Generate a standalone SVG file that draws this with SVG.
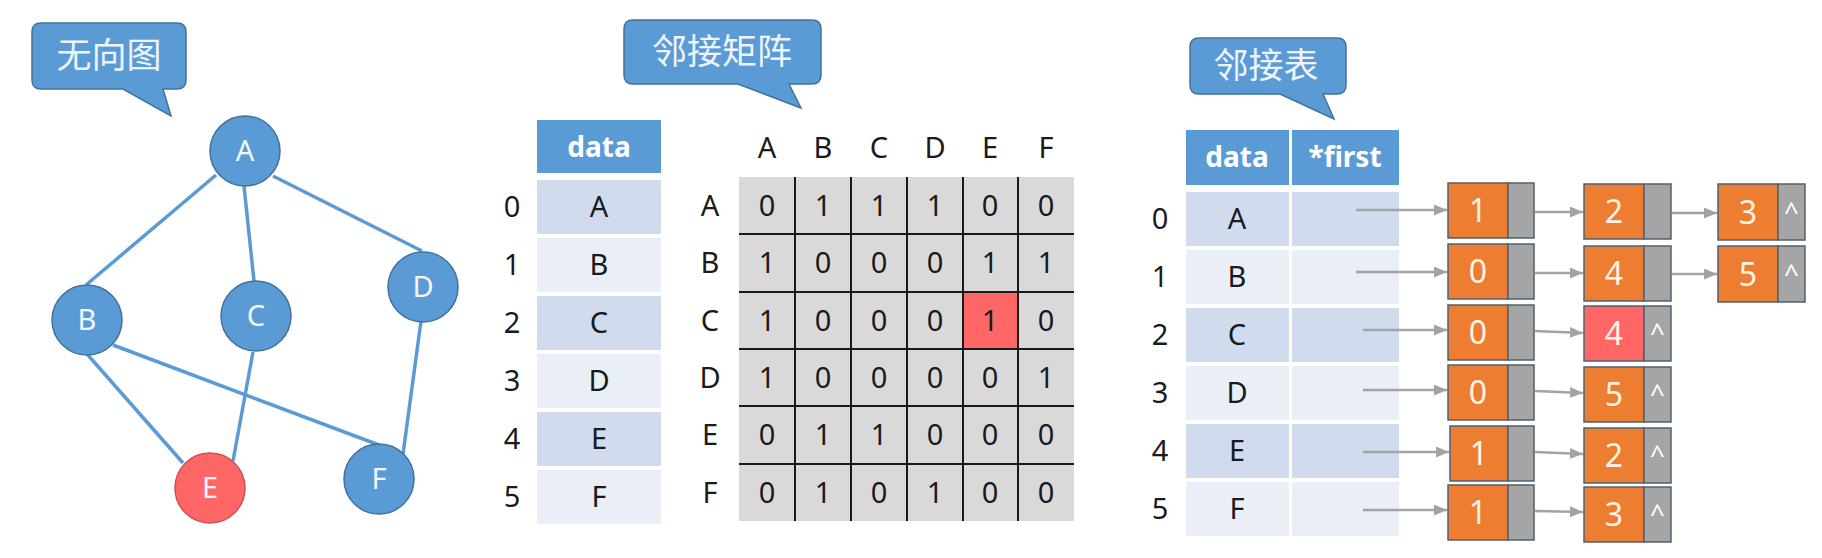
<svg xmlns="http://www.w3.org/2000/svg" width="1822" height="558" viewBox="0 0 1822 558">
<style>
text{font-family:"Noto Sans","Open Sans","Liberation Sans",sans-serif;text-anchor:middle}
.cjk{font-family:"Noto Sans CJK SC","Noto Sans",sans-serif;font-size:35px;fill:#eef4fb}
.callout{fill:#5b9bd5;stroke:#41719c;stroke-width:1.5}
.gn{fill:#5b9bd5;stroke:#41719c;stroke-width:1.5}
.gn-red{fill:#ff6666;stroke:#d05050;stroke-width:1.5}
.gt{font-size:29px;fill:#f2f7fc}
.edge{stroke:#5b9bd5;stroke-width:3.5;fill:none}
.hdr{fill:#5b9bd5}
.hdrt{font-size:28px;font-weight:bold;fill:#ffffff}
.r0{fill:#d0dcee}
.r1{fill:#e9eef7}
.t{font-size:29px;fill:#1a1a1a}
.mat{fill:#d9d9d9}
.red{fill:#ff6666}
.grid{stroke:#1a1a1a;stroke-width:2}
.or{fill:#ed7d31;stroke:#4f6272;stroke-width:1.5}
.orred{fill:#ff6666;stroke:#4f6272;stroke-width:1.5}
.gy{fill:#a5a5a5;stroke:#4f6272;stroke-width:1.5}
.nt{font-size:32px;fill:#fff3e3}
.ct{font-size:26px;fill:#ffffff}
.arr{stroke:#a3a3a3;stroke-width:2.5;fill:none;marker-end:url(#ah)}
</style>
<defs>
<marker id="ah" markerUnits="userSpaceOnUse" markerWidth="13" markerHeight="11" refX="13" refY="5.5" orient="auto">
<path d="M0,0 L13,5.5 L0,11 Z" fill="#a3a3a3"/>
</marker>
</defs>

<!-- Callouts -->
<g id="callout-graph">
<path class="callout" d="M41,23 H177 Q186,23 186,32 V80 Q186,89 177,89 H163 L171,116 L123,89 H41 Q32,89 32,80 V32 Q32,23 41,23 Z"/>
<text class="cjk" x="109" y="68">无向图</text>
</g>
<g id="callout-matrix">
<path class="callout" d="M633,20 H812 Q821,20 821,29 V75 Q821,84 812,84 H789 L801,108 L738,84 H633 Q624,84 624,75 V29 Q624,20 633,20 Z"/>
<text class="cjk" x="722" y="64">邻接矩阵</text>
</g>
<g id="callout-list">
<path class="callout" d="M1199,38 H1337 Q1346,38 1346,47 V85 Q1346,94 1337,94 H1323 L1334,119 L1280,94 H1199 Q1190,94 1190,85 V47 Q1190,38 1199,38 Z"/>
<text class="cjk" x="1266" y="78">邻接表</text>
</g>

<!-- Matrix section: data table -->
<g id="matrix-data-table">
<rect class="hdr" x="537" y="120" width="124" height="53"/>
<text class="hdrt" x="599" y="157">data</text>
<rect class="r0" x="537" y="180" width="124" height="54"/>
<rect class="r1" x="537" y="238" width="124" height="54"/>
<rect class="r0" x="537" y="296" width="124" height="54"/>
<rect class="r1" x="537" y="354" width="124" height="54"/>
<rect class="r0" x="537" y="412" width="124" height="54"/>
<rect class="r1" x="537" y="470" width="124" height="54"/>
<text class="t" x="512" y="217">0</text><text class="t" x="599" y="217">A</text>
<text class="t" x="512" y="275">1</text><text class="t" x="599" y="275">B</text>
<text class="t" x="512" y="333">2</text><text class="t" x="599" y="333">C</text>
<text class="t" x="512" y="391">3</text><text class="t" x="599" y="391">D</text>
<text class="t" x="512" y="449">4</text><text class="t" x="599" y="449">E</text>
<text class="t" x="512" y="507">5</text><text class="t" x="599" y="507">F</text>
</g>

<!-- Adjacency matrix -->
<g id="adjacency-matrix">
<rect class="mat" x="739" y="177" width="335" height="344"/>
<rect class="red" x="963" y="292" width="55" height="57"/>
<line class="grid" x1="795" y1="177" x2="795" y2="521"/>
<line class="grid" x1="851" y1="177" x2="851" y2="521"/>
<line class="grid" x1="907" y1="177" x2="907" y2="521"/>
<line class="grid" x1="963" y1="177" x2="963" y2="521"/>
<line class="grid" x1="1018" y1="177" x2="1018" y2="521"/>
<line class="grid" x1="739" y1="234" x2="1074" y2="234"/>
<line class="grid" x1="739" y1="292" x2="1074" y2="292"/>
<line class="grid" x1="739" y1="349" x2="1074" y2="349"/>
<line class="grid" x1="739" y1="406" x2="1074" y2="406"/>
<line class="grid" x1="739" y1="464" x2="1074" y2="464"/>
<text class="t" x="767" y="158">A</text><text class="t" x="823" y="158">B</text><text class="t" x="879" y="158">C</text><text class="t" x="935" y="158">D</text><text class="t" x="990" y="158">E</text><text class="t" x="1046" y="158">F</text>
<text class="t" x="710" y="216">A</text>
<text class="t" x="767" y="216">0</text><text class="t" x="823" y="216">1</text><text class="t" x="879" y="216">1</text><text class="t" x="935" y="216">1</text><text class="t" x="990" y="216">0</text><text class="t" x="1046" y="216">0</text>
<text class="t" x="710" y="273">B</text>
<text class="t" x="767" y="273">1</text><text class="t" x="823" y="273">0</text><text class="t" x="879" y="273">0</text><text class="t" x="935" y="273">0</text><text class="t" x="990" y="273">1</text><text class="t" x="1046" y="273">1</text>
<text class="t" x="710" y="331">C</text>
<text class="t" x="767" y="331">1</text><text class="t" x="823" y="331">0</text><text class="t" x="879" y="331">0</text><text class="t" x="935" y="331">0</text><text class="t" x="990" y="331">1</text><text class="t" x="1046" y="331">0</text>
<text class="t" x="710" y="388">D</text>
<text class="t" x="767" y="388">1</text><text class="t" x="823" y="388">0</text><text class="t" x="879" y="388">0</text><text class="t" x="935" y="388">0</text><text class="t" x="990" y="388">0</text><text class="t" x="1046" y="388">1</text>
<text class="t" x="710" y="445">E</text>
<text class="t" x="767" y="445">0</text><text class="t" x="823" y="445">1</text><text class="t" x="879" y="445">1</text><text class="t" x="935" y="445">0</text><text class="t" x="990" y="445">0</text><text class="t" x="1046" y="445">0</text>
<text class="t" x="710" y="503">F</text>
<text class="t" x="767" y="503">0</text><text class="t" x="823" y="503">1</text><text class="t" x="879" y="503">0</text><text class="t" x="935" y="503">1</text><text class="t" x="990" y="503">0</text><text class="t" x="1046" y="503">0</text>
</g>

<!-- Adjacency list table -->
<g id="list-table">
<rect class="hdr" x="1186" y="130" width="103" height="55"/>
<rect class="hdr" x="1292" y="130" width="107" height="55"/>
<text class="hdrt" x="1237" y="167">data</text>
<text class="hdrt" x="1345" y="167">*first</text>
<rect class="r0" x="1186" y="192" width="103" height="54"/><rect class="r0" x="1292" y="192" width="107" height="54"/>
<rect class="r1" x="1186" y="250" width="103" height="54"/><rect class="r1" x="1292" y="250" width="107" height="54"/>
<rect class="r0" x="1186" y="308" width="103" height="54"/><rect class="r0" x="1292" y="308" width="107" height="54"/>
<rect class="r1" x="1186" y="366" width="103" height="54"/><rect class="r1" x="1292" y="366" width="107" height="54"/>
<rect class="r0" x="1186" y="424" width="103" height="54"/><rect class="r0" x="1292" y="424" width="107" height="54"/>
<rect class="r1" x="1186" y="482" width="103" height="54"/><rect class="r1" x="1292" y="482" width="107" height="54"/>
<text class="t" x="1160" y="229">0</text><text class="t" x="1237" y="229">A</text>
<text class="t" x="1160" y="287">1</text><text class="t" x="1237" y="287">B</text>
<text class="t" x="1160" y="345">2</text><text class="t" x="1237" y="345">C</text>
<text class="t" x="1160" y="403">3</text><text class="t" x="1237" y="403">D</text>
<text class="t" x="1160" y="461">4</text><text class="t" x="1237" y="461">E</text>
<text class="t" x="1160" y="519">5</text><text class="t" x="1237" y="519">F</text>
</g>

<!-- Connectors -->
<g id="connectors">
<line class="edge" x1="216" y1="175" x2="86" y2="285"/>
<line class="edge" x1="244" y1="186" x2="254" y2="281"/>
<line class="edge" x1="273" y1="176" x2="422" y2="251"/>
<line class="edge" x1="87" y1="354" x2="183" y2="463"/>
<line class="edge" x1="113" y1="345" x2="379" y2="445"/>
<line class="edge" x1="253" y1="352" x2="233" y2="461"/>
<line class="edge" x1="421" y1="321" x2="403" y2="454"/>
<line class="arr" x1="1356" y1="210" x2="1447" y2="210"/>
<line class="arr" x1="1356" y1="272" x2="1447" y2="272"/>
<line class="arr" x1="1363" y1="330" x2="1447" y2="330"/>
<line class="arr" x1="1363" y1="390" x2="1447" y2="390"/>
<line class="arr" x1="1363" y1="452" x2="1449" y2="452"/>
<line class="arr" x1="1363" y1="510" x2="1447" y2="510"/>
<line class="arr" x1="1535" y1="212" x2="1583" y2="212"/>
<line class="arr" x1="1535" y1="273" x2="1583" y2="273"/>
<line class="arr" x1="1535" y1="331" x2="1583" y2="333"/>
<line class="arr" x1="1535" y1="391" x2="1583" y2="393"/>
<line class="arr" x1="1535" y1="452" x2="1583" y2="454"/>
<line class="arr" x1="1535" y1="511" x2="1583" y2="512"/>
<line class="arr" x1="1672" y1="213" x2="1717" y2="213"/>
<line class="arr" x1="1672" y1="274" x2="1717" y2="274"/>
</g>

<!-- Graph nodes -->
<g id="node-A"><circle class="gn" cx="245" cy="151" r="35"/><text class="gt" x="245" y="161">A</text></g>
<g id="node-B"><circle class="gn" cx="87" cy="320" r="35"/><text class="gt" x="87" y="330">B</text></g>
<g id="node-C"><circle class="gn" cx="256" cy="316" r="35"/><text class="gt" x="256" y="326">C</text></g>
<g id="node-D"><circle class="gn" cx="423" cy="287" r="35"/><text class="gt" x="423" y="297">D</text></g>
<g id="node-E"><circle class="gn-red" cx="210" cy="488" r="35"/><text class="gt" x="210" y="498">E</text></g>
<g id="node-F"><circle class="gn" cx="379" cy="479" r="35"/><text class="gt" x="379" y="489">F</text></g>

<!-- List nodes, row 0 -->
<g id="list-0-1"><rect class="or" x="1448" y="183" width="60" height="55"/><rect class="gy" x="1508" y="183" width="26" height="55"/><text class="nt" x="1478" y="222">1</text></g>
<g id="list-0-2"><rect class="or" x="1584" y="184" width="60" height="55"/><rect class="gy" x="1644" y="184" width="27" height="55"/><text class="nt" x="1614" y="223">2</text></g>
<g id="list-0-3"><rect class="or" x="1718" y="184" width="60" height="56"/><rect class="gy" x="1778" y="184" width="27" height="56"/><text class="nt" x="1748" y="224">3</text><text class="ct" x="1791.5" y="221">^</text></g>
<!-- row 1 -->
<g id="list-1-1"><rect class="or" x="1448" y="244" width="60" height="55"/><rect class="gy" x="1508" y="244" width="26" height="55"/><text class="nt" x="1478" y="283">0</text></g>
<g id="list-1-2"><rect class="or" x="1584" y="246" width="60" height="55"/><rect class="gy" x="1644" y="246" width="27" height="55"/><text class="nt" x="1614" y="285">4</text></g>
<g id="list-1-3"><rect class="or" x="1718" y="246" width="60" height="56"/><rect class="gy" x="1778" y="246" width="27" height="56"/><text class="nt" x="1748" y="286">5</text><text class="ct" x="1791.5" y="283">^</text></g>
<!-- row 2 -->
<g id="list-2-1"><rect class="or" x="1448" y="305" width="60" height="55"/><rect class="gy" x="1508" y="305" width="26" height="55"/><text class="nt" x="1478" y="344">0</text></g>
<g id="list-2-2"><rect class="orred" x="1584" y="306" width="60" height="55"/><rect class="gy" x="1644" y="306" width="27" height="55"/><text class="nt" x="1614" y="345">4</text><text class="ct" x="1657.5" y="342">^</text></g>
<!-- row 3 -->
<g id="list-3-1"><rect class="or" x="1448" y="365" width="60" height="55"/><rect class="gy" x="1508" y="365" width="26" height="55"/><text class="nt" x="1478" y="404">0</text></g>
<g id="list-3-2"><rect class="or" x="1584" y="367" width="60" height="55"/><rect class="gy" x="1644" y="367" width="27" height="55"/><text class="nt" x="1614" y="406">5</text><text class="ct" x="1657.5" y="403">^</text></g>
<!-- row 4 -->
<g id="list-4-1"><rect class="or" x="1450" y="426" width="58" height="55"/><rect class="gy" x="1508" y="426" width="26" height="55"/><text class="nt" x="1479" y="465">1</text></g>
<g id="list-4-2"><rect class="or" x="1584" y="428" width="60" height="55"/><rect class="gy" x="1644" y="428" width="27" height="55"/><text class="nt" x="1614" y="467">2</text><text class="ct" x="1657.5" y="464">^</text></g>
<!-- row 5 -->
<g id="list-5-1"><rect class="or" x="1448" y="485" width="60" height="55"/><rect class="gy" x="1508" y="485" width="26" height="55"/><text class="nt" x="1478" y="524">1</text></g>
<g id="list-5-2"><rect class="or" x="1584" y="487" width="60" height="55"/><rect class="gy" x="1644" y="487" width="27" height="55"/><text class="nt" x="1614" y="526">3</text><text class="ct" x="1657.5" y="523">^</text></g>
</svg>
